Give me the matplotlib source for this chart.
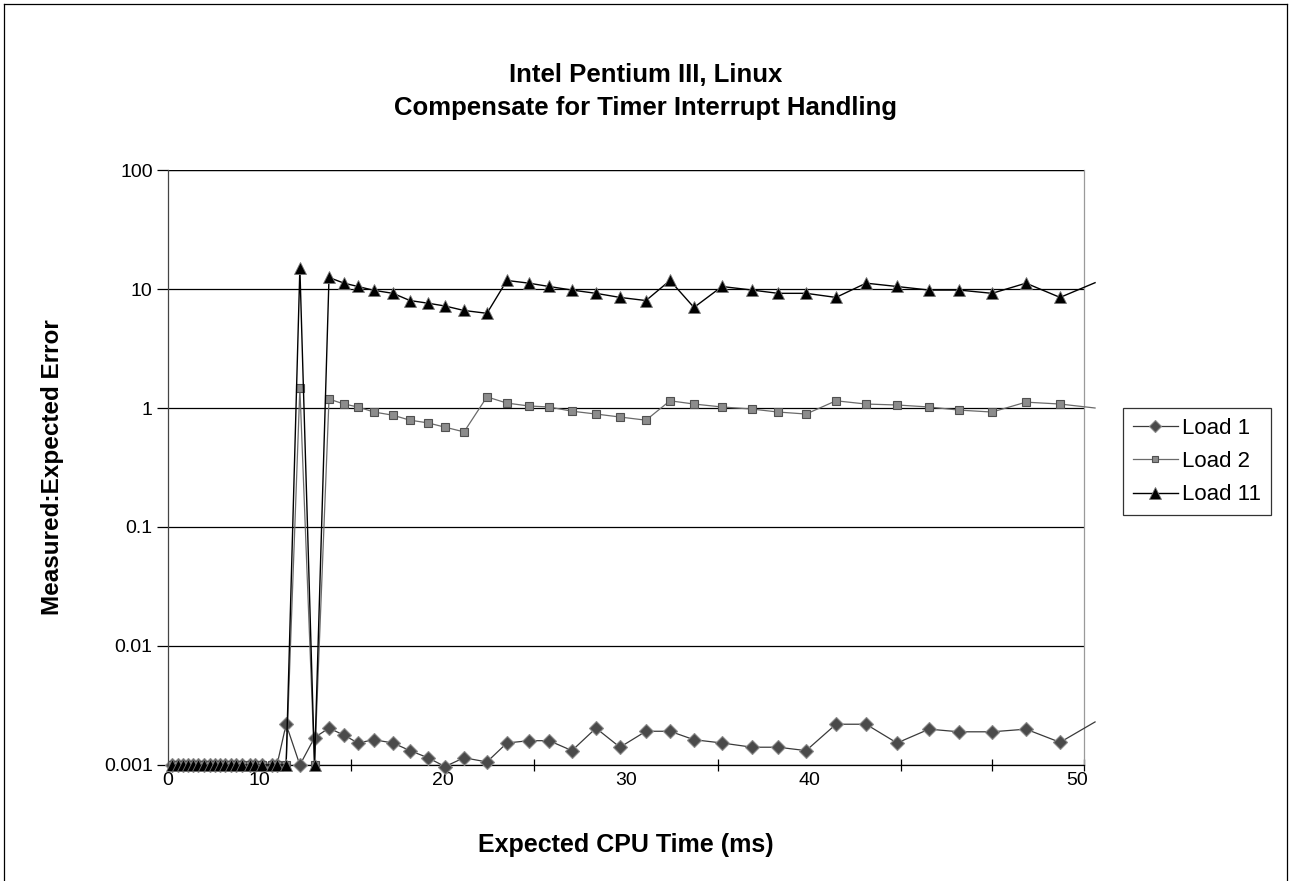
import matplotlib
matplotlib.use('Agg')
import matplotlib.pyplot as plt
from matplotlib.lines import Line2D

plt.rcParams['font.family'] = ['Liberation Sans', 'DejaVu Sans']

# expected CPU time, shared by all three series (axis units as drawn)
cpu_time = [0.22, 0.55, 0.82, 1.09, 1.36, 1.64, 1.97, 2.29, 2.56, 2.84,
            3.11, 3.44, 3.71, 4.04, 4.48, 4.75, 5.13, 5.68, 5.95, 6.45,
            7.2, 8.0, 8.79, 9.61, 10.37, 11.24, 12.28, 13.21, 14.19, 15.12,
            16.16, 17.41, 18.5, 19.7, 20.8, 22.05, 23.36, 24.67, 26.09, 27.4,
            28.71, 30.24, 31.88, 33.3, 34.83, 36.46, 38.1, 39.79, 41.54, 43.18,
            44.98, 46.83, 48.69, 50.6]

load1 = [0.001] * 19 + [0.0022, 0.001, 0.0017,
         0.00204, 0.00178, 0.00153, 0.00163, 0.00153, 0.00132, 0.00115, 0.00097,
         0.00115, 0.00106, 0.00153, 0.0016, 0.0016, 0.00132, 0.00204, 0.00141,
         0.00192, 0.00192, 0.00163, 0.00153, 0.00141, 0.00141, 0.00132, 0.0022,
         0.0022, 0.00153, 0.002, 0.0019, 0.0019, 0.002, 0.00155, 0.0023]

load2 = [0.001] * 20 + [1.47, 0.001,
         1.19, 1.08, 1.02, 0.925, 0.87, 0.79, 0.75, 0.69, 0.63, 1.24,
         1.1, 1.04, 1.02, 0.94, 0.89, 0.84, 0.79, 1.15, 1.08, 1.02,
         0.98, 0.925, 0.89, 1.15, 1.08, 1.06, 1.02, 0.96, 0.925, 1.12,
         1.08, 1.0]

load11 = [0.001] * 20 + [15.0, 0.001,
          12.5, 11.2, 10.5, 9.75, 9.2, 8.0, 7.6, 7.2, 6.6, 6.25,
          11.8, 11.2, 10.5, 9.8, 9.2, 8.5, 8.0, 11.8, 7.0, 10.5,
          9.8, 9.2, 9.2, 8.5, 11.2, 10.5, 9.8, 9.8, 9.2, 11.2,
          8.5, 11.3]

y_ticks = [0.001, 0.01, 0.1, 1, 10, 100]
y_tick_labels = ['0.001', '0.01', '0.1', '1', '10', '100']
x_label_pos = [0, 5, 15, 25, 35, 49.6]
x_tick_labels = ['0', '10', '20', '30', '40', '50']

fig = plt.figure(figsize=(12.91, 8.81), dpi=100)
ax = fig.add_axes([0.1301, 0.1317, 0.7096, 0.6753])

# last point sits just past the axis edge: line only, no marker
mk = slice(0, len(cpu_time) - 1)
ax.plot(cpu_time, load1, '-', color='#3a3a3a', lw=0.9, marker='D', ms=7,
        mfc='#4a4a4a', mec='#8a8a8a', mew=0.8, markevery=mk, clip_on=False,
        zorder=3)
ax.plot(cpu_time, load2, '-', color='#6a6a6a', lw=0.9, marker='s', ms=5.5,
        mfc='#8c8c8c', mec='#505050', mew=0.8, markevery=mk, clip_on=False,
        zorder=3)
ax.plot(cpu_time, load11, '-', color='black', lw=1.0, marker='^', ms=9,
        mfc='black', mec='#777777', mew=0.6, markevery=mk, clip_on=False,
        zorder=4)

ax.set_yscale('log')
ax.set_ylim(0.001, 100)
ax.set_xlim(0, 50)
ax.set_yticks(y_ticks)
ax.set_yticklabels(y_tick_labels)
ax.yaxis.set_minor_locator(matplotlib.ticker.NullLocator())
ax.tick_params(axis='y', which='major', direction='out', length=8, width=0.9,
               labelsize=14, pad=3)

# tick marks every 5 units, labels placed where the original has them
ax.set_xticks(x_label_pos)
ax.set_xticklabels(x_tick_labels)
ax.tick_params(axis='x', which='major', length=0, labelsize=14, pad=5)
ax.set_xticks([i * 5 for i in range(11)], minor=True)
ax.tick_params(axis='x', which='minor', direction='inout', length=8, width=0.9)

ax.grid(axis='y', which='major', color='black', lw=0.9)
ax.grid(axis='x', visible=False)
ax.spines['top'].set_visible(False)
ax.spines['right'].set_color('#9a9a9a')
ax.spines['left'].set_color('#444444')
ax.spines['bottom'].set_color('black')
for s in ax.spines.values():
    s.set_linewidth(0.9)

# gridline at 100 extends left over the tick like the others
ax.axhline(100, color='black', lw=0.9, zorder=2)

ax.set_xlabel('Expected CPU Time (ms)', fontsize=18, fontweight='bold',
              labelpad=32)
ax.set_ylabel('Measured:Expected Error', fontsize=17.5, fontweight='bold',
              labelpad=29)

fig.text(0.5, 1 - 75 / 881, 'Intel Pentium III, Linux', ha='center',
         va='center', fontsize=18.5, fontweight='bold')
fig.text(0.5, 1 - 108 / 881, 'Compensate for Timer Interrupt Handling',
         ha='center', va='center', fontsize=18.5, fontweight='bold')

handles = [
    Line2D([], [], color='#3a3a3a', lw=0.9, marker='D', ms=6,
           mfc='#4a4a4a', mec='#8a8a8a', mew=0.8),
    Line2D([], [], color='#6a6a6a', lw=0.9, marker='s', ms=5,
           mfc='#8c8c8c', mec='#505050', mew=0.8),
    Line2D([], [], color='black', lw=1.0, marker='^', ms=8,
           mfc='black', mec='#777777', mew=0.6),
]
leg = fig.legend(handles, ['Load 1', 'Load 2', 'Load 11'], loc='upper left',
                 bbox_to_anchor=(0.87, 0.537), fontsize=16, frameon=True,
                 fancybox=False, edgecolor='black', handlelength=2.0,
                 handletextpad=0.2, labelspacing=0.55, borderpad=0.45,
                 borderaxespad=0)
leg.get_frame().set_linewidth(0.9)

# chart area border
for xs, ys in [([4, 4], [0, 877]), ([4, 1287], [877, 877]), ([1287, 1287], [0, 877])]:
    fig.add_artist(Line2D([x / 1291 for x in xs], [y / 881 for y in ys],
                          color='black', lw=0.9))

fig.savefig('out.png', dpi=100)
